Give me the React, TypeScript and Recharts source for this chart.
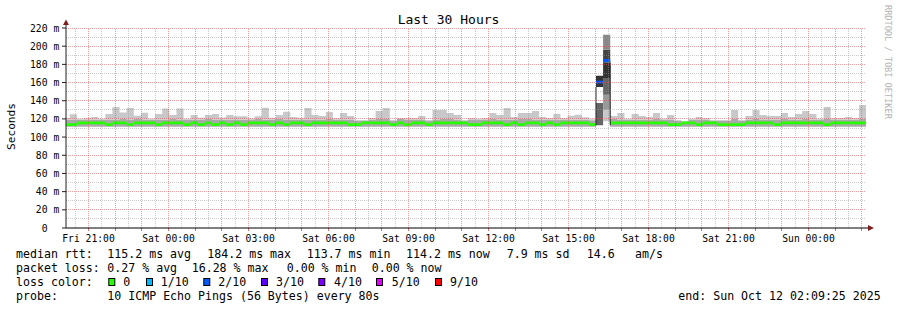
import React from "react";
import { ComposedChart, Area, XAxis, YAxis, ReferenceLine } from "recharts";

const MONO = '"DejaVu Sans Mono", monospace';

// time axis: hours since the graph start (Fri 20:09:25), 30 hours shown
const firstHour = 0.843; // Fri 21:00
const firstHalfHour = 0.343; // Fri 20:30
const xTickLabels = [
  "Fri 21:00", "Sat 00:00", "Sat 03:00", "Sat 06:00", "Sat 09:00",
  "Sat 12:00", "Sat 15:00", "Sat 18:00", "Sat 21:00", "Sun 00:00",
];
const yTickValues = [0, 20, 40, 60, 80, 100, 120, 140, 160, 180, 200, 220];

// consolidated steps of 16 minutes
const firstStep = -0.125;
const stepHours = 16 / 60;

// smoke, ms
const smokeTop = [
  121, 125, 120, 121, 122, 120, 125.4, 133, 127, 132,
  123.6, 126.8, 120, 125.4, 131.5, 124.3, 131.5, 120, 124.3, 121.3,
  124.3, 125.4, 121.5, 124.3, 123, 123, 120.5, 123, 132.3, 121.3,
  124.3, 128, 122, 121.3, 132, 124.3, 123.2, 127.6, 120.7, 126.5,
  123.2, 118.8, 118.8, 121, 128.7, 132, 118.8, 121, 121, 121,
  123.2, 118.8, 129.8, 129.8, 126.5, 124.3, 118.8, 121, 120, 121,
  126.5, 124.3, 132, 122, 126.5, 126.5, 128.7, 122, 121, 125.4,
  121, 123.6, 124.7, 121.8, 119.6, 167.5, 212.5, 123.2, 126.5, 120,
  125.4, 123.2, 122, 126.5, 120, 124.3, 118.8, 117.7, 120, 122,
  121, 118.8, 118.8, 118.8, 129.8, 118.8, 123.2, 129.8, 124.3, 123.2,
  123.2, 126.5, 122, 125.4, 128.7, 125.4, 120, 133, 121, 121,
  122, 121, 135.3, 135.3, 135.3,
];
const smokeMid = [
  119, 119, 119, 119, 119, 119, 119, 119, 120.5, 119,
  120.5, 119, 119, 119, 119, 120.5, 119, 119, 119, 119,
  120.5, 119, 119, 119, 119, 119, 119, 120.5, 119, 119,
  120.5, 119, 119, 119, 119, 119, 119, 120.5, 119, 119,
  119, 118, 118, 119, 120.5, 120.5, 118, 120.5, 119, 119,
  119, 118, 119, 120.5, 120.5, 119, 118, 119, 119, 119,
  120.5, 119, 119, 119, 120.5, 120.5, 119, 119, 119, 119,
  119, 119, 119, 119, 118.5, 113, 113, 120.5, 119, 119,
  119, 119, 119, 120.5, 119, 119, 118, 117, 119, 119,
  119, 118, 118, 118, 120.5, 118, 119, 120.5, 119, 119,
  119, 120.5, 119, 119, 120.5, 119, 119, 120.5, 119, 119,
  119, 119, 120.5, 120.5, 120.5,
];
const smokeLow = [
  111.5, 111.5, 111.5, 111.5, 111.5, 111.5, 111.5, 111.5, 111.5, 111.5,
  111.5, 111.5, 111.5, 111.5, 111.5, 111.5, 111.5, 111.5, 111.5, 111.5,
  111.5, 111.5, 111.5, 111.5, 111.5, 111.5, 111.5, 111.5, 111.5, 111.5,
  111.5, 111.5, 111.5, 111.5, 111.5, 111.5, 111.5, 111.5, 111.5, 111.5,
  111.5, 111.5, 111.5, 111.5, 111.5, 111.5, 111.5, 111.5, 111.5, 111.5,
  111.5, 111.5, 111.5, 111.5, 111.5, 111.5, 111.5, 111.5, 111.5, 111.5,
  111.5, 111.5, 111.5, 111.5, 111.5, 111.5, 111.5, 111.5, 111.5, 111.5,
  111.5, 111.5, 111.5, 111.5, 111.5, 113, 113, 111.5, 111.5, 111.5,
  111.5, 111.5, 111.5, 111.5, 111.5, 111.5, 111.5, 111.5, 111.5, 111.5,
  111.5, 111.5, 111.5, 111.5, 111.5, 111.5, 111.5, 111.5, 111.5, 111.5,
  111.5, 111.5, 111.5, 111.5, 111.5, 111.5, 111.5, 111.5, 111.5, 111.5,
  111.5, 111.5, 111.5, 111.5, 111.5,
];
const medianRtt = [
  113.7, 113.7, 115.6, 115.6, 115.6, 115.6, 113.7, 115.6, 115.6, 113.7,
  115.6, 115.6, 115.6, 113.7, 115.6, 115.6, 115.6, 113.7, 115.6, 113.7,
  115.6, 113.7, 115.6, 113.7, 115.6, 113.7, 115.6, 115.6, 115.6, 113.7,
  115.6, 113.7, 115.6, 115.6, 113.7, 115.6, 115.6, 115.6, 115.6, 115.6,
  113.7, 113.7, 115.6, 115.6, 115.6, 115.6, 113.7, 115.6, 113.7, 115.6,
  115.6, 113.7, 115.6, 115.6, 115.6, 115.6, 115.6, 113.7, 113.7, 115.6,
  115.6, 115.6, 113.7, 115.6, 113.7, 115.6, 115.6, 113.7, 115.6, 113.7,
  115.6, 115.6, 115.6, 115.6, 113.7, 160.5, 184.2, 115.6, 115.6, 115.6,
  115.6, 115.6, 115.6, 115.6, 115.6, 113.7, 113.7, 115.6, 115.6, 113.7,
  115.6, 115.6, 113.7, 113.7, 113.7, 113.7, 115.6, 115.6, 115.6, 115.6,
  113.7, 115.6, 115.6, 115.6, 115.6, 115.6, 115.6, 113.7, 115.6, 115.6,
  115.6, 115.6, 115.6, 115.6, 115.6,
];

// the loss event around Sat 16:00
const lossSteps = [75, 76];
const lossCounts = [2, 2];
const spikeSteps = [75, 76];
// band thickness (ms) per smoke layer, bottom up
const spikeBands = [
  [0, 24.5, 17.5, 0, 0, 0, 0, 12.5, 0, 0],
  [4.5, 0, 0, 0, 12.5, 16.5, 18.5, 17, 14, 16.5],
];

const lossLevels = [0, 1, 2, 3, 4, 5, 9];
const lossLabels = ["0", "1/10", "2/10", "3/10", "4/10", "5/10", "9/10"];
const lossColors = ["#26ff00", "#00b8ff", "#0059ff", "#5e00ff", "#7e00ff", "#dd00ff", "#ff0000"];

const rttStats = ["115.2 ms avg", "184.2 ms max", "113.7 ms min", "114.2 ms now", "7.9 ms sd", "14.6", "am/s"];
const lossStats = ["0.27 % avg", "16.28 % max", "0.00 % min", "0.00 % now"];
const probeText = "10 ICMP Echo Pings (56 Bytes) every 80s";
const endText = "end: Sun Oct 12 02:09:25 2025";

const SMOKE_LAYERS = [
  { key: "w0", fill: "#ffffff" },
  { key: "g6a", fill: "#666666" },
  { key: "w1", fill: "#ffffff" },
  { key: "inner", fill: "#a9a9a9" },
  { key: "outer", fill: "#c8c8c8" },
  { key: "g9", fill: "#999999" },
  { key: "g6b", fill: "#666666" },
  { key: "g3", fill: "#333333" },
  { key: "g4", fill: "#444444" },
  { key: "g8", fill: "#888888" },
];
const MED_HALF = 1.6;

const stepTime = (i: number) => firstStep + i * stepHours;

const rows = smokeTop.map((top, i) => {
  const row: Record<string, number> = { t: stepTime(i), smokeBase: smokeLow[i] };
  SMOKE_LAYERS.forEach((l) => (row[l.key] = 0));
  const s = spikeSteps.indexOf(i);
  if (s >= 0) {
    spikeBands[s].forEach((v, k) => (row[SMOKE_LAYERS[k].key] = v));
  } else {
    row.inner = smokeMid[i] - smokeLow[i];
    row.outer = top - smokeMid[i];
  }
  const li = lossSteps.indexOf(i);
  const loss = li >= 0 ? lossCounts[li] : 0;
  const level = lossLevels.filter((l) => l <= loss).length - 1;
  row.medBase = medianRtt[i] - MED_HALF;
  lossColors.forEach((_, j) => (row["loss" + j] = j === level ? MED_HALF * 2 : 0));
  return row;
});

const xTicks = xTickLabels.map((_, k) => firstHour + 3 * k);
const halfHours: number[] = [];
for (let h = firstHalfHour; h < 30; h += 0.5) halfHours.push(h);
const gridValues: number[] = [];
for (let v = 10; v <= 220; v += 10) gridValues.push(v);

const MINOR = "rgba(150,150,150,0.5)";
const MAJOR = "rgba(222,79,79,0.55)";

function spikeLow(s: number) {
  return smokeLow[spikeSteps[s]];
}
const spikeLeftTop = spikeLow(0) + spikeBands[0][1] + spikeBands[0][2];
const spikeRightTop = spikeLow(1) + spikeBands[1].slice(0, 8).reduce((a, b) => a + b, 0);

const XTick = (p: any) => (
  <text x={p.x} y={p.y + 13.5} textAnchor="middle" fontFamily={MONO} fontSize={9.7} fill="#000">
    {xTickLabels[p.index]}
  </text>
);

const YTick = (p: any) => {
  const v = p.payload.value;
  return (
    <g>
      <text x={p.x - 14.5} y={p.y + 3.5} textAnchor="end" fontFamily={MONO} fontSize={9.7} fill="#000">
        {v}
      </text>
      {v !== 0 && (
        <text x={p.x - 8.6} y={p.y + 3.5} fontFamily={MONO} fontSize={9.7} fill="#000">
          m
        </text>
      )}
    </g>
  );
};

const rttX = [107.3, 207.3, 306.7, 406, 506.7, 586.7, 635];
const lossX = [107.3, 191.7, 286.7, 371.7];
const swatchX = [108.3, 146, 203.3, 261, 318.3, 376, 435];
const swatchLabelX = [123.3, 160.7, 218.3, 276, 334, 391.7, 450];

const txt = { fontFamily: MONO, fontSize: 11.6, fill: "#000" };

export default function App() {
  return (
    <div style={{ position: "absolute", left: 0, top: 0, width: 897, height: 310, background: "#fff" }}>
      <ComposedChart
        width={897}
        height={310}
        data={rows}
        margin={{ top: 28, right: 31, bottom: 62, left: 0 }}
      >
        <XAxis
          dataKey="t"
          type="number"
          domain={[0, 30]}
          allowDataOverflow
          ticks={xTicks}
          interval={0}
          tick={<XTick />}
          tickLine={false}
          tickSize={0}
          tickMargin={0}
          height={20}
          axisLine={{ stroke: "#000" }}
        />
        <YAxis
          type="number"
          domain={[0, 220]}
          allowDataOverflow
          ticks={yTickValues}
          interval={0}
          width={66}
          tick={<YTick />}
          tickSize={4}
          tickMargin={0}
          tickLine={{ stroke: "#1f1f1f" }}
          axisLine={{ stroke: "#1f1f1f" }}
        />
        <Area
          dataKey="smokeBase"
          stackId="smoke"
          type="stepAfter"
          stroke="none"
          fillOpacity={0}
          dot={false}
          activeDot={false}
          isAnimationActive={false}
        />
        {SMOKE_LAYERS.map((l) => (
          <Area
            key={l.key}
            dataKey={l.key}
            stackId="smoke"
            type="stepAfter"
            stroke="none"
            fill={l.fill}
            fillOpacity={1}
            dot={false}
            activeDot={false}
            isAnimationActive={false}
          />
        ))}
        <Area
          dataKey="medBase"
          stackId="median"
          type="stepAfter"
          stroke="none"
          fillOpacity={0}
          dot={false}
          activeDot={false}
          isAnimationActive={false}
        />
        {lossColors.map((c, j) => (
          <Area
            key={"loss" + j}
            dataKey={"loss" + j}
            stackId="median"
            type="stepAfter"
            stroke="none"
            fill={c}
            fillOpacity={1}
            dot={false}
            activeDot={false}
            isAnimationActive={false}
          />
        ))}
        <ReferenceLine
          segment={[
            { x: stepTime(spikeSteps[0]), y: spikeLow(0) },
            { x: stepTime(spikeSteps[0]), y: spikeLeftTop },
          ]}
          stroke="#222"
        />
        <ReferenceLine
          segment={[
            { x: stepTime(spikeSteps[1] + 1), y: spikeLow(1) },
            { x: stepTime(spikeSteps[1] + 1), y: spikeRightTop },
          ]}
          stroke="#222"
        />
        {halfHours.map((h, k) => (
          <ReferenceLine
            key={"v" + k}
            x={h}
            stroke={k % 2 === 1 ? MAJOR : MINOR}
            strokeDasharray="1 1"
            shapeRendering="crispEdges"
          />
        ))}
        {halfHours
          .filter((_, k) => k % 2 === 1)
          .map((h) => (
            <ReferenceLine
              key={"tk" + h}
              segment={[
                { x: h, y: 0 },
                { x: h, y: -3 },
              ]}
              ifOverflow="visible"
              stroke="rgba(222,79,79,0.8)"
              shapeRendering="crispEdges"
            />
          ))}
        {gridValues.map((v) => (
          <ReferenceLine
            key={"h" + v}
            y={v}
            stroke={v % 20 === 0 ? MAJOR : MINOR}
            strokeDasharray="1 1"
            shapeRendering="crispEdges"
          />
        ))}
      </ComposedChart>
      <svg
        width={897}
        height={310}
        style={{ position: "absolute", left: 0, top: 0, pointerEvents: "none" }}
      >
        <text x={448.5} y={23.5} textAnchor="middle" fontFamily={MONO} fontSize={13} fill="#000">
          Last 30 Hours
        </text>
        <text transform="translate(15,126.5) rotate(-90)" textAnchor="middle" fontFamily={MONO} fontSize={11.1} fill="#000">
          Seconds
        </text>
        <text transform="translate(884.5,5) rotate(90)" fontFamily={MONO} fontSize={8.6} fill="#b4b4b4">
          RRDTOOL / TOBI OETIKER
        </text>
        {/* axis arrows */}
        <line x1={66} y1={28} x2={66} y2={24} stroke="#1f1f1f" />
        <polygon points="63,25 69,25 66,19.5" fill="#801f1f" />
        <line x1={866} y1={228} x2={869} y2={228} stroke="#000" />
        <polygon points="868,225 868,231 874,228" fill="#801f1f" />

        <text x={16} y={258.3} {...txt}>median rtt:</text>
        {rttStats.map((s, k) => (
          <text key={s} x={rttX[k]} y={258.3} {...txt}>{s}</text>
        ))}
        <text x={16} y={272} {...txt}>packet loss:</text>
        {lossStats.map((s, k) => (
          <text key={s + k} x={lossX[k]} y={272} {...txt}>{s}</text>
        ))}
        <text x={16} y={286} {...txt}>loss color:</text>
        {lossLabels.map((s, k) => (
          <g key={s}>
            <rect x={swatchX[k] + 0.5} y={278.5} width={6} height={7} fill={lossColors[k]} stroke="#000" />
            <text x={swatchLabelX[k]} y={286} {...txt}>{s}</text>
          </g>
        ))}
        <text x={16} y={300} {...txt}>probe:</text>
        <text x={107.3} y={300} {...txt}>{probeText}</text>
        <text x={678.3} y={300} {...txt}>{endText}</text>
      </svg>
    </div>
  );
}
